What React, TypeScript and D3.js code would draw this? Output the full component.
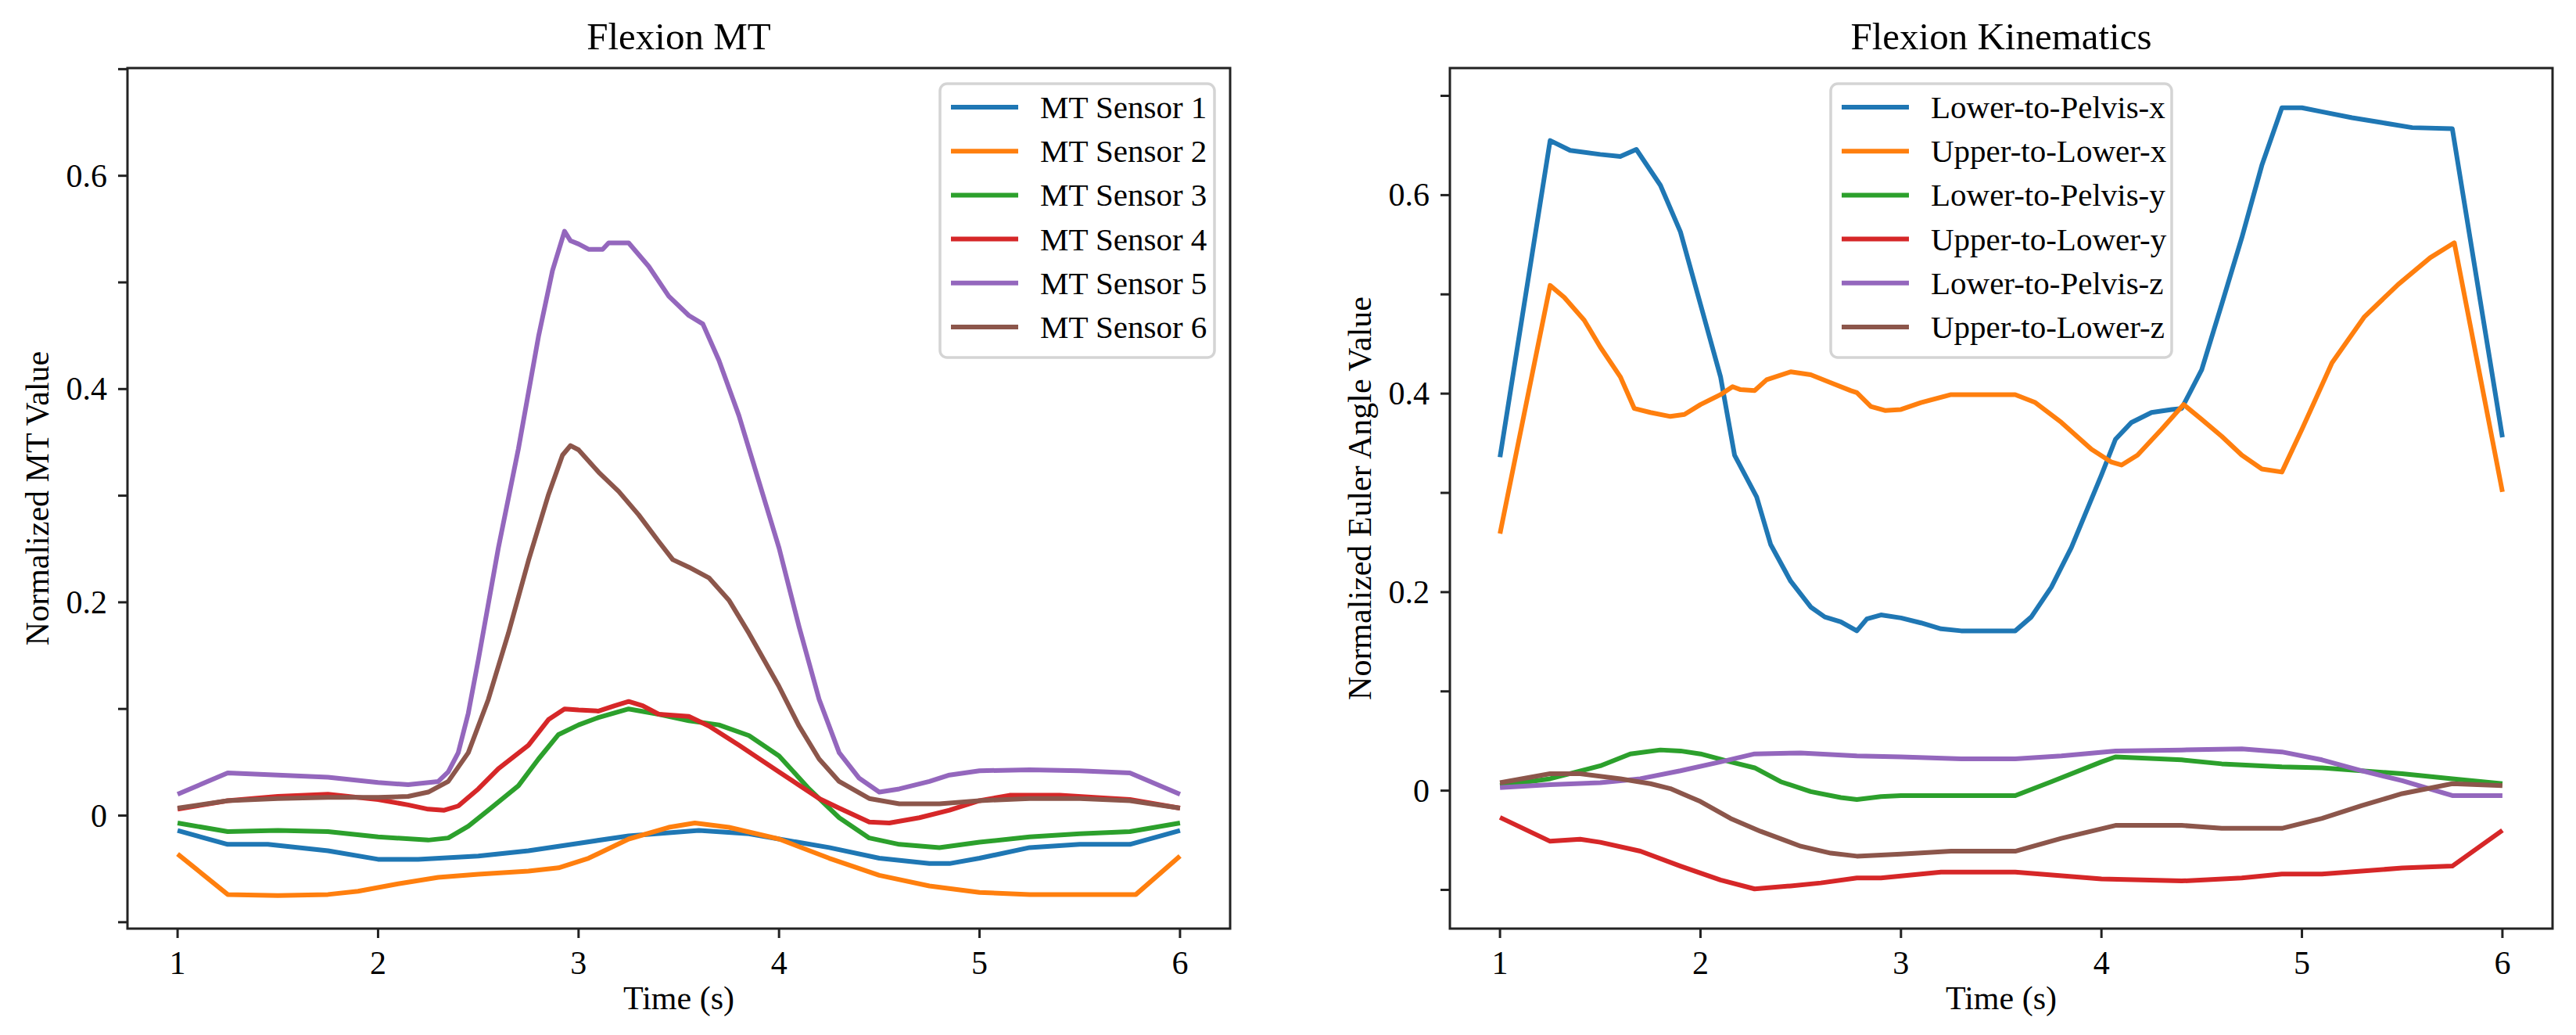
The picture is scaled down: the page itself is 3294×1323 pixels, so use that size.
import * as d3 from "d3";

// ── Data: [time (s), normalized value] ──
const MT_SENSOR_1: [number, number][] = [
  [1, -0.014], [1.25, -0.027], [1.45, -0.027], [1.75, -0.033], [2, -0.041], [2.2, -0.041],
  [2.5, -0.038], [2.75, -0.033], [3, -0.026], [3.25, -0.019], [3.6, -0.014], [3.85, -0.017],
  [4, -0.022], [4.25, -0.03], [4.5, -0.04], [4.75, -0.045], [4.85, -0.045], [5, -0.04],
  [5.25, -0.03], [5.5, -0.027], [5.75, -0.027], [6, -0.014],
];
const MT_SENSOR_2: [number, number][] = [
  [1, -0.036], [1.25, -0.074], [1.5, -0.075], [1.75, -0.074], [1.9, -0.071], [2.1, -0.064],
  [2.3, -0.058], [2.5, -0.055], [2.75, -0.052], [2.9, -0.049], [3.05, -0.04], [3.25, -0.022],
  [3.45, -0.011], [3.58, -0.007], [3.75, -0.011], [4, -0.022], [4.25, -0.04], [4.5, -0.056],
  [4.75, -0.066], [5, -0.072], [5.25, -0.074], [5.5, -0.074], [5.78, -0.074], [6, -0.038],
];
const MT_SENSOR_3: [number, number][] = [
  [1, -0.007], [1.25, -0.015], [1.5, -0.014], [1.75, -0.015], [2, -0.02], [2.25, -0.023],
  [2.35, -0.021], [2.45, -0.01], [2.55, 0.005], [2.7, 0.028], [2.8, 0.053], [2.9, 0.076],
  [3, 0.085], [3.1, 0.092], [3.25, 0.1], [3.4, 0.095], [3.55, 0.089], [3.7, 0.085],
  [3.85, 0.075], [4, 0.056], [4.15, 0.025], [4.3, -0.002], [4.45, -0.021], [4.6, -0.027],
  [4.8, -0.03], [5, -0.025], [5.25, -0.02], [5.5, -0.017], [5.75, -0.015], [6, -0.007],
];
const MT_SENSOR_4: [number, number][] = [
  [1, 0.006], [1.25, 0.014], [1.5, 0.018], [1.75, 0.02], [2, 0.015], [2.15, 0.01],
  [2.25, 0.006], [2.33, 0.005], [2.4, 0.009], [2.5, 0.025], [2.6, 0.044], [2.75, 0.066],
  [2.85, 0.09], [2.93, 0.1], [3, 0.099], [3.1, 0.098], [3.18, 0.103], [3.25, 0.107],
  [3.32, 0.103], [3.4, 0.095], [3.55, 0.093], [3.65, 0.084], [3.8, 0.066], [4, 0.041],
  [4.2, 0.016], [4.3, 0.007], [4.45, -0.006], [4.55, -0.007], [4.7, -0.002], [4.85, 0.005],
  [5, 0.014], [5.15, 0.019], [5.4, 0.019], [5.75, 0.015], [6, 0.007],
];
const MT_SENSOR_5: [number, number][] = [
  [1, 0.02], [1.25, 0.04], [1.5, 0.038], [1.75, 0.036], [2, 0.031], [2.15, 0.029],
  [2.3, 0.032], [2.35, 0.041], [2.4, 0.059], [2.45, 0.096], [2.5, 0.146], [2.6, 0.251],
  [2.7, 0.344], [2.8, 0.449], [2.87, 0.511], [2.93, 0.548], [2.96, 0.539], [3, 0.536],
  [3.05, 0.531], [3.12, 0.531], [3.15, 0.537], [3.25, 0.537], [3.3, 0.526], [3.35, 0.515],
  [3.45, 0.487], [3.55, 0.469], [3.62, 0.461], [3.7, 0.427], [3.8, 0.375], [3.9, 0.313],
  [4, 0.251], [4.1, 0.177], [4.2, 0.109], [4.3, 0.059], [4.4, 0.035], [4.5, 0.022],
  [4.6, 0.025], [4.75, 0.032], [4.85, 0.038], [5, 0.042], [5.25, 0.043], [5.5, 0.042],
  [5.75, 0.04], [6, 0.02],
];
const MT_SENSOR_6: [number, number][] = [
  [1, 0.007], [1.25, 0.014], [1.5, 0.016], [1.75, 0.017], [2, 0.017], [2.15, 0.018],
  [2.25, 0.022], [2.35, 0.032], [2.45, 0.059], [2.55, 0.109], [2.65, 0.171], [2.75, 0.239],
  [2.85, 0.301], [2.92, 0.338], [2.96, 0.347], [3, 0.343], [3.1, 0.322], [3.2, 0.304],
  [3.3, 0.282], [3.4, 0.257], [3.47, 0.24], [3.55, 0.233], [3.65, 0.223], [3.75, 0.202],
  [3.85, 0.171], [4, 0.121], [4.1, 0.084], [4.2, 0.053], [4.3, 0.032], [4.45, 0.016],
  [4.6, 0.011], [4.8, 0.011], [5, 0.014], [5.25, 0.016], [5.5, 0.016], [5.75, 0.014], [6, 0.007],
];

const LOWER_PELVIS_X: [number, number][] = [
  [1, 0.336], [1.25, 0.655], [1.35, 0.645], [1.5, 0.641], [1.6, 0.639], [1.68, 0.646],
  [1.8, 0.61], [1.9, 0.563], [2, 0.49], [2.1, 0.417], [2.17, 0.338], [2.28, 0.296],
  [2.35, 0.248], [2.45, 0.211], [2.55, 0.185], [2.62, 0.175], [2.7, 0.17], [2.78, 0.161],
  [2.83, 0.173], [2.9, 0.177], [3, 0.174], [3.1, 0.169], [3.2, 0.163], [3.3, 0.161],
  [3.57, 0.161], [3.65, 0.175], [3.75, 0.205], [3.85, 0.245], [4, 0.318], [4.07, 0.354],
  [4.15, 0.371], [4.25, 0.381], [4.35, 0.384], [4.4, 0.385], [4.5, 0.424], [4.6, 0.49],
  [4.7, 0.557], [4.8, 0.63], [4.9, 0.688], [5, 0.688], [5.1, 0.684], [5.25, 0.678],
  [5.4, 0.673], [5.55, 0.668], [5.75, 0.667], [6, 0.356],
];
const UPPER_LOWER_X: [number, number][] = [
  [1, 0.259], [1.25, 0.509], [1.32, 0.497], [1.42, 0.474], [1.5, 0.447], [1.6, 0.417],
  [1.67, 0.385], [1.75, 0.381], [1.85, 0.377], [1.92, 0.379], [2, 0.389], [2.1, 0.399],
  [2.16, 0.407], [2.2, 0.404], [2.27, 0.403], [2.33, 0.414], [2.45, 0.422], [2.55, 0.419],
  [2.65, 0.411], [2.75, 0.403], [2.78, 0.401], [2.85, 0.387], [2.92, 0.383], [3, 0.384],
  [3.1, 0.391], [3.25, 0.399], [3.57, 0.399], [3.67, 0.391], [3.8, 0.371], [3.95, 0.344],
  [4.05, 0.331], [4.1, 0.328], [4.18, 0.338], [4.3, 0.364], [4.41, 0.389], [4.5, 0.374],
  [4.6, 0.357], [4.7, 0.338], [4.8, 0.324], [4.9, 0.321], [5, 0.364], [5.15, 0.431],
  [5.31, 0.477], [5.48, 0.51], [5.64, 0.537], [5.76, 0.552], [6, 0.301],
];
const LOWER_PELVIS_Y: [number, number][] = [
  [1, 0.005], [1.25, 0.012], [1.5, 0.025], [1.65, 0.037], [1.8, 0.041], [1.9, 0.04],
  [2, 0.037], [2.15, 0.029], [2.27, 0.023], [2.4, 0.009], [2.55, -0.001], [2.7, -0.007],
  [2.78, -0.009], [2.9, -0.006], [3, -0.005], [3.57, -0.005], [3.75, 0.009], [4, 0.029],
  [4.07, 0.034], [4.4, 0.031], [4.6, 0.027], [4.9, 0.024], [5.1, 0.023], [5.5, 0.017],
  [5.75, 0.012], [6, 0.007],
];
const UPPER_LOWER_Y: [number, number][] = [
  [1, -0.027], [1.25, -0.051], [1.4, -0.049], [1.5, -0.052], [1.7, -0.061], [1.9, -0.076],
  [2.1, -0.09], [2.27, -0.099], [2.45, -0.096], [2.6, -0.093], [2.78, -0.088], [2.9, -0.088],
  [3, -0.086], [3.2, -0.082], [3.57, -0.082], [4, -0.089], [4.4, -0.091], [4.7, -0.088],
  [4.9, -0.084], [5.1, -0.084], [5.5, -0.078], [5.75, -0.076], [6, -0.04],
];
const LOWER_PELVIS_Z: [number, number][] = [
  [1, 0.003], [1.25, 0.006], [1.5, 0.008], [1.7, 0.012], [1.9, 0.02], [2.1, 0.029],
  [2.27, 0.037], [2.5, 0.038], [2.78, 0.035], [3, 0.034], [3.3, 0.032], [3.57, 0.032],
  [3.8, 0.035], [4.07, 0.04], [4.4, 0.041], [4.7, 0.042], [4.9, 0.039], [5.1, 0.031],
  [5.3, 0.02], [5.5, 0.01], [5.75, -0.005], [6, -0.005],
];
const UPPER_LOWER_Z: [number, number][] = [
  [1, 0.008], [1.25, 0.017], [1.4, 0.017], [1.6, 0.012], [1.75, 0.007], [1.85, 0.002],
  [2, -0.011], [2.15, -0.028], [2.3, -0.041], [2.5, -0.056], [2.65, -0.063], [2.78, -0.066],
  [3, -0.064], [3.25, -0.061], [3.57, -0.061], [3.8, -0.048], [4.07, -0.035], [4.4, -0.035],
  [4.6, -0.038], [4.9, -0.038], [5.1, -0.028], [5.3, -0.015], [5.5, -0.003], [5.75, 0.007],
  [6, 0.005],
];

const MT_NAMES = ["MT Sensor 1", "MT Sensor 2", "MT Sensor 3", "MT Sensor 4", "MT Sensor 5", "MT Sensor 6"];
const KIN_NAMES = [
  "Lower-to-Pelvis-x", "Upper-to-Lower-x", "Lower-to-Pelvis-y",
  "Upper-to-Lower-y", "Lower-to-Pelvis-z", "Upper-to-Lower-z",
];
const X_TICKS = [1, 2, 3, 4, 5, 6];
const Y_TICKS = [-0.1, 0, 0.1, 0.2, 0.3, 0.4, 0.5, 0.6, 0.7];
const COLORS = ["#1f77b4", "#ff7f0e", "#2ca02c", "#d62728", "#9467bd", "#8c564b"];

// ── Layout ────────────────────────────────────────────────────
const W = 3294;
const H = 1323;
const TOP = 87;
const BOTTOM = 1187;
const AX_W = 1410;
const FONT = "'Liberation Serif', 'Times New Roman', serif";
const INK = "#222222";

interface PanelProps {
  left: number;
  title: string;
  ylabel: string;
  yDomain: [number, number];
  names: string[];
  series: [number, number][][];
  legendW: number;
  legendCenter: boolean;
  ylabelX: number;
}

function Panel({ left, title, ylabel, yDomain, names, series, legendW, legendCenter, ylabelX }: PanelProps) {
  const x = d3.scaleLinear().domain([0.75, 6.25]).range([left, left + AX_W]);
  const y = d3.scaleLinear().domain(yDomain).range([BOTTOM, TOP]);
  const line = d3.line<[number, number]>().x((d) => x(d[0])).y((d) => y(d[1]));
  const yTicks = Y_TICKS.filter((v) => v >= yDomain[0] && v <= yDomain[1]);
  const cx = left + AX_W / 2;

  const lgX = legendCenter ? cx - legendW / 2 : left + AX_W - 20 - legendW;
  const lgY = TOP + 20;
  const rowH = 56.2;

  return (
    <g>
      <defs>
        <clipPath id={`clip-${left}`}>
          <rect x={left} y={TOP} width={AX_W} height={BOTTOM - TOP} />
        </clipPath>
      </defs>
      <g clipPath={`url(#clip-${left})`}>
        {series.map((s, i) => (
          <path key={i} d={line(s) ?? ""} fill="none" stroke={COLORS[i]} strokeWidth={6}
            strokeLinejoin="round" strokeLinecap="butt" />
        ))}
      </g>
      <rect x={left} y={TOP} width={AX_W} height={BOTTOM - TOP} fill="none" stroke={INK} strokeWidth={3} />

      {X_TICKS.map((t) => (
        <g key={t}>
          <line x1={x(t)} x2={x(t)} y1={BOTTOM} y2={BOTTOM + 12} stroke={INK} strokeWidth={3} />
          <text x={x(t)} y={1245} textAnchor="middle" fontSize={42} fill="#000">{t}</text>
        </g>
      ))}
      {yTicks.map((v) => {
        const even = Math.round(v * 10) % 2 === 0;
        return (
          <g key={v}>
            <line x1={left - 12} x2={left} y1={y(v)} y2={y(v)} stroke={INK} strokeWidth={3} />
            {even && (
              <text x={left - 26} y={y(v) + 14} textAnchor="end" fontSize={42} fill="#000">
                {v === 0 ? "0" : d3.format(".1f")(v)}
              </text>
            )}
          </g>
        );
      })}

      <text x={cx} y={63} textAnchor="middle" fontSize={49} fill="#000">{title}</text>
      <text x={cx} y={1290} textAnchor="middle" fontSize={42} fill="#000">Time (s)</text>
      <text transform={`translate(${ylabelX},${(TOP + BOTTOM) / 2}) rotate(-90)`} textAnchor="middle"
        fontSize={42} fill="#000">{ylabel}</text>

      <rect x={lgX} y={lgY} width={legendW} height={350} rx={9} fill="#ffffff" fillOpacity={0.8}
        stroke="#d4d4d4" strokeWidth={3.5} />
      {names.map((n, i) => {
        const ry = lgY + 30 + i * rowH;
        return (
          <g key={n}>
            <line x1={lgX + 14} x2={lgX + 100} y1={ry} y2={ry} stroke={COLORS[i]} strokeWidth={6} />
            <text x={lgX + 128} y={ry + 14} fontSize={41} fill="#000">{n}</text>
          </g>
        );
      })}
    </g>
  );
}

export default function App() {
  return (
    <div style={{ position: "absolute", left: 0, top: 0 }}>
      <svg width={W} height={H} style={{ display: "block", fontFamily: FONT, background: "#fff" }}>
        <rect width={W} height={H} fill="#fff" />
        <Panel left={163} title="Flexion MT" ylabel="Normalized MT Value" yDomain={[-0.106, 0.701]}
          names={MT_NAMES}
          series={[MT_SENSOR_1, MT_SENSOR_2, MT_SENSOR_3, MT_SENSOR_4, MT_SENSOR_5, MT_SENSOR_6]}
          legendW={351} legendCenter={false} ylabelX={62} />
        <Panel left={1854} title="Flexion Kinematics" ylabel="Normalized Euler Angle Value" yDomain={[-0.139, 0.728]}
          names={KIN_NAMES}
          series={[LOWER_PELVIS_X, UPPER_LOWER_X, LOWER_PELVIS_Y, UPPER_LOWER_Y, LOWER_PELVIS_Z, UPPER_LOWER_Z]}
          legendW={436} legendCenter={true} ylabelX={1753} />
      </svg>
    </div>
  );
}
